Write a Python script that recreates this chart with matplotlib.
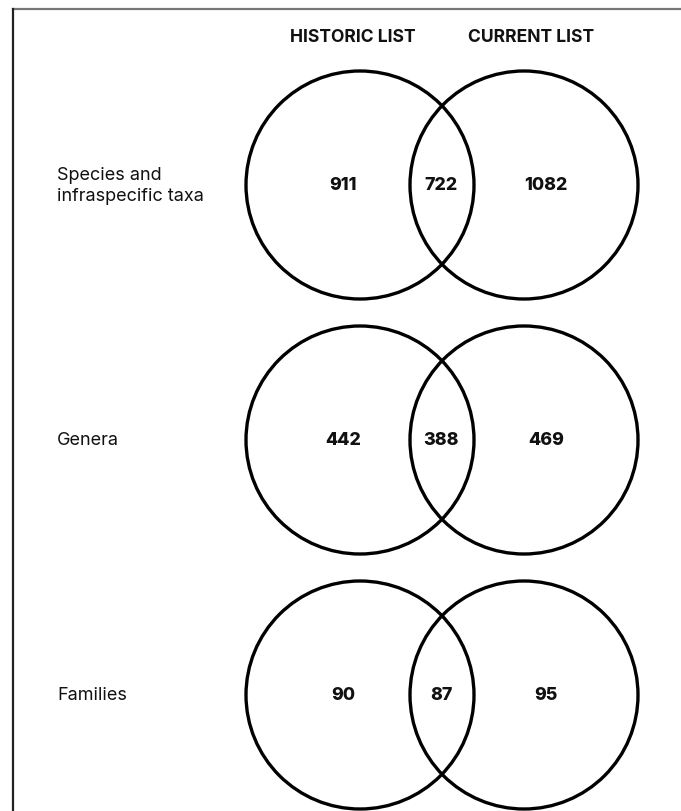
import matplotlib
matplotlib.use("Agg")
import matplotlib.pyplot as plt
from matplotlib.patches import Circle
from matplotlib.lines import Line2D

plt.rcParams['font.family'] = ['Inter', 'DejaVu Sans']

# Data
set_titles = ["HISTORIC LIST", "CURRENT LIST"]
row_labels = ["Species and\ninfraspecific taxa", "Genera", "Families"]
historic_only = [911, 442, 90]
shared = [722, 388, 87]
current_only = [1082, 469, 95]

W, H = 681, 812
fig = plt.figure(figsize=(W / 100, H / 100), dpi=100)
ax = fig.add_axes([0, 0, 1, 1])
ax.set_xlim(0, W)
ax.set_ylim(H, 0)
ax.set_aspect('equal')
ax.axis('off')

# frame lines (top and left)
ax.add_line(Line2D([13, W], [10, 10], color='#777777', lw=1.6))
ax.add_line(Line2D([13, 13], [10, H], color='#222222', lw=1.6))

cx_left, cx_right = 360, 524
radius = 114
row_y = [186, 441, 696]

ax.text(353, 38, set_titles[0], ha='center', va='center', fontsize=12.6,
        fontweight='bold', color='#111111')
ax.text(531, 38, set_titles[1], ha='center', va='center', fontsize=12.6,
        fontweight='bold', color='#111111')

for i, y in enumerate(row_y):
    for cx in (cx_left, cx_right):
        ax.add_patch(Circle((cx, y), radius, fill=False, edgecolor='black', lw=2.4))
    ax.text(57, y, row_labels[i], ha='left', va='center', fontsize=13,
            color='#111111', linespacing=1.35)
    ax.text(343, y, str(historic_only[i]), ha='center', va='center',
            fontsize=12.8, fontweight='heavy', color='#111111')
    ax.text(441, y, str(shared[i]), ha='center', va='center',
            fontsize=12.8, fontweight='heavy', color='#111111')
    ax.text(546, y, str(current_only[i]), ha='center', va='center',
            fontsize=12.8, fontweight='heavy', color='#111111')

fig.savefig("out.png", dpi=100, facecolor='white')
